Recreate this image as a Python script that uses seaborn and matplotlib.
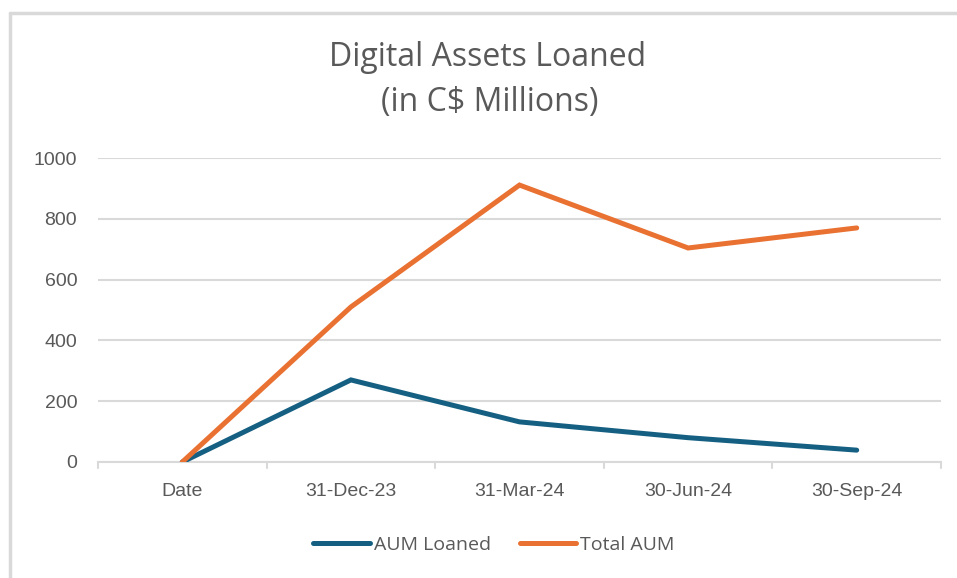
import matplotlib
matplotlib.use("Agg")
import matplotlib.pyplot as plt
from matplotlib.lines import Line2D
import seaborn as sns
import pandas as pd

categories = ["Date", "31-Dec-23", "31-Mar-24", "30-Jun-24", "30-Sep-24"]
aum_loaned = [0, 270, 132, 80, 39]
total_aum = [0, 510, 911, 704, 770]
series_names = ["AUM Loaned", "Total AUM"]
y_ticks = [0, 200, 400, 600, 800, 1000]

df = pd.DataFrame({
    "Category": categories * 2,
    "Value": aum_loaned + total_aum,
    "Series": [series_names[0]] * len(categories) + [series_names[1]] * len(categories),
})

sns.set_theme(style="white")
plt.rcParams["font.family"] = ["Liberation Sans", "DejaVu Sans"]

colors = {"AUM Loaned": "#156082", "Total AUM": "#E97132"}
grey_text = "#595959"
grid_c = "#D9D9D9"
lw = 3.6

fig = plt.figure(figsize=(9.57, 5.78), dpi=100)
ax = fig.add_axes([98 / 957, 1 - 462 / 578, (941 - 98) / 957, (462 - 158) / 578])

sns.lineplot(data=df, x="Category", y="Value", hue="Series", palette=colors,
             linewidth=lw, ax=ax, legend=False, sort=False)
for ln in ax.lines:
    ln.set_solid_capstyle("round")
    ln.set_solid_joinstyle("miter")
    ln.set_zorder(3)

ax.set_xlim(-0.5, len(categories) - 0.5)
ax.set_ylim(0, 1000)
ax.set_yticks(y_ticks)
ax.set_xticks(range(len(categories)))
ax.set_xticklabels(categories)
ax.set_xlabel("")
ax.set_ylabel("")
ax.yaxis.grid(True, color=grid_c, linewidth=1.5)
ax.set_axisbelow(True)
for s in ["top", "right", "left"]:
    ax.spines[s].set_visible(False)
ax.spines["bottom"].set_color(grid_c)
ax.spines["bottom"].set_linewidth(1.5)
ax.spines["bottom"].set_zorder(1)
ax.tick_params(axis="y", length=0, pad=15, labelsize=14, labelcolor=grey_text)
ax.tick_params(axis="x", length=0, pad=15, labelsize=14, labelcolor=grey_text)

# category boundary tick marks
for xb in [i - 0.5 for i in range(len(categories) + 1)]:
    ax.plot([xb, xb], [0, -0.02], transform=ax.get_xaxis_transform(),
            color=grid_c, linewidth=1.5, clip_on=False, zorder=1)

fig.text(488 / 957, 1 - 57 / 578, "Digital Assets Loaned", ha="center", va="center",
         fontsize=23, color=grey_text, family=["Open Sans", "DejaVu Sans"])
fig.text(490 / 957, 1 - 102 / 578, "(in C$ Millions)", ha="center", va="center",
         fontsize=23, color=grey_text, family=["Open Sans", "DejaVu Sans"])

handles = [Line2D([0], [0], color=colors[n], linewidth=lw, solid_capstyle="round") for n in series_names]
fig.legend(handles, series_names, loc="center", bbox_to_anchor=(494 / 957, 1 - 545 / 578),
           ncol=2, frameon=False, handlelength=2.9, handletextpad=0.2, columnspacing=1.5,
           prop={"family": ["Open Sans", "DejaVu Sans"], "size": 14}, labelcolor=grey_text)

# outer frame (left and top edges)
fig.add_artist(Line2D([10 / 957, 10 / 957], [0, 1 - 13 / 578], transform=fig.transFigure,
                      color="#D9D9D9", linewidth=2.5))
fig.add_artist(Line2D([10 / 957, 1], [1 - 13 / 578, 1 - 13 / 578], transform=fig.transFigure,
                      color="#D9D9D9", linewidth=2.5))

fig.savefig("out.png", dpi=100, facecolor="white")
